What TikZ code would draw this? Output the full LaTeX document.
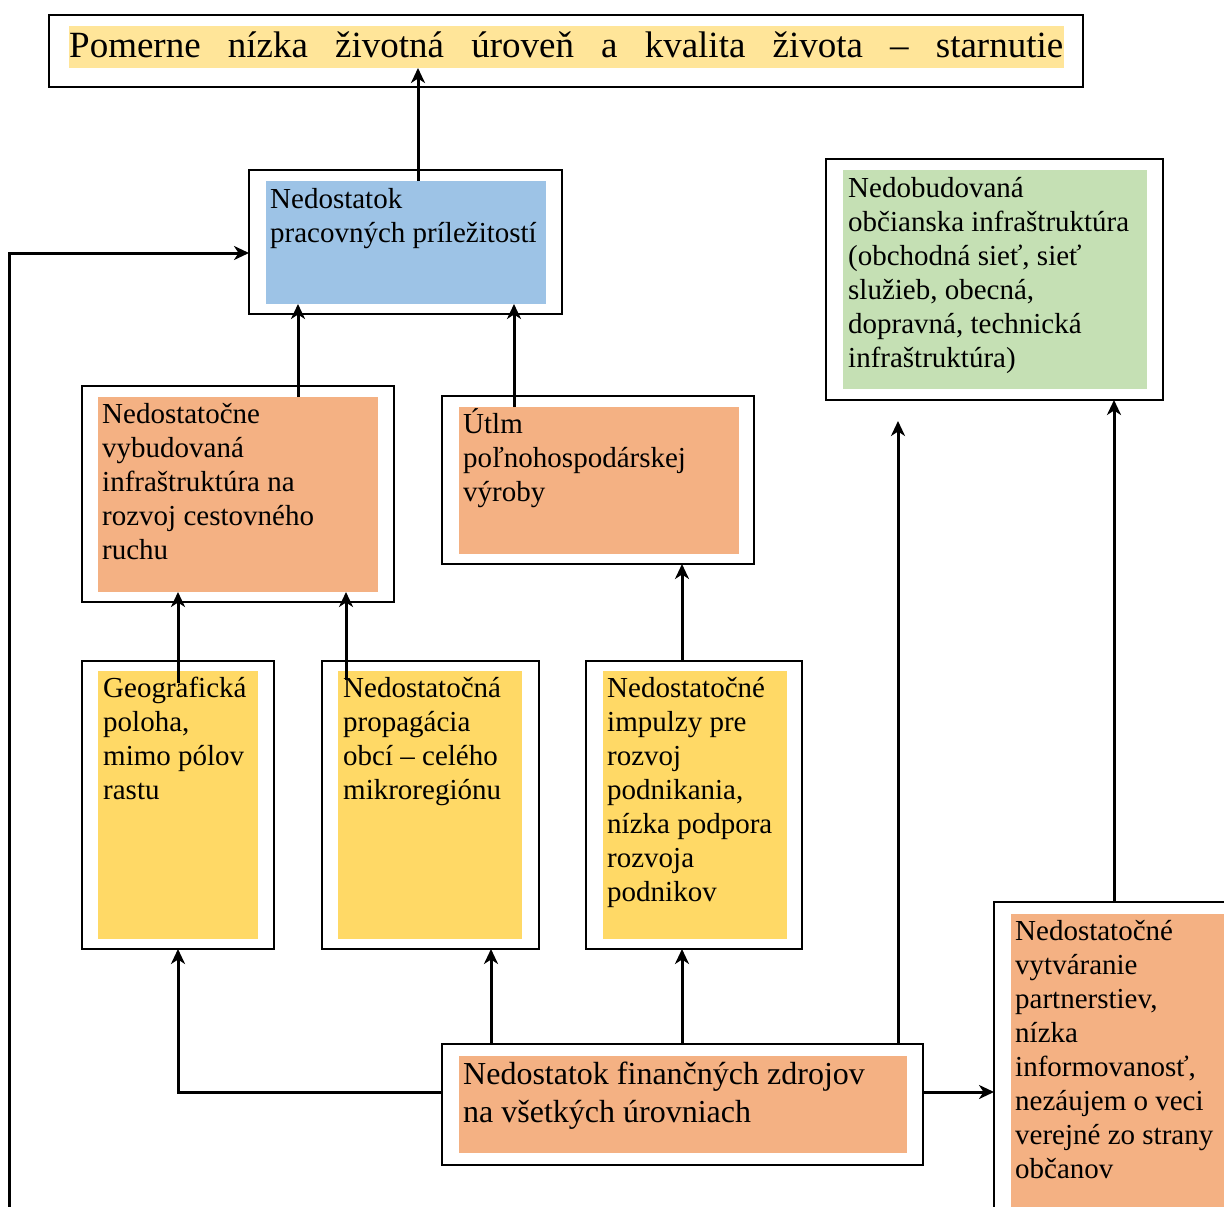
\documentclass[tikz,border=0pt]{standalone}
\usepackage{fontspec}
\setmainfont{Liberation Serif}
\usetikzlibrary{arrows.meta,calc}
\definecolor{cblue}{HTML}{9DC3E6}
\definecolor{corange}{HTML}{F4B183}
\definecolor{cgreen}{HTML}{C5E0B4}
\definecolor{cyellow}{HTML}{FFD966}
\definecolor{chigh}{HTML}{FFE599}
\newcommand{\mlines}[1]{\begin{tabular}[t]{@{}l@{}}#1\end{tabular}}
\begin{document}
\begin{tikzpicture}[x=1pt,y=-1pt,
  outer/.style={draw=black,line width=2.8pt,fill=white,inner sep=0pt,outer sep=0pt},
  fillbox/.style={inner sep=0pt,outer sep=0pt},
  txt/.style={anchor=base west,inner sep=0pt,font=\fontsize{29}{34}\selectfont},
  arr/.style={line width=3pt,-{Stealth[length=15pt,width=14pt,inset=4.5pt]}}]
\useasboundingbox (0,0) rectangle (1224,1207);
\clip (0,0) rectangle (1224,1207);
\fill[white] (0,0) rectangle (1224,1207);

% top box
\node[outer,minimum width=1034,minimum height=72] (o1) at (566,51) {};
\node[fillbox,fill=chigh,minimum width=995,minimum height=42] (f1) at (566.5,47) {};
\node[anchor=base west,inner sep=0pt,font=\fontsize{37}{42}\selectfont] (t1) at (69,58)
  {\hbox to 994pt{Pomerne\hfill nízka\hfill životná\hfill úroveň\hfill a\hfill kvalita\hfill života\hfill –\hfill starnutie}};

% Nedostatok pracovnych prilezitosti
\node[outer,minimum width=313,minimum height=144] (o2) at (405.5,242) {};
\node[fillbox,fill=cblue,minimum width=280,minimum height=123] (f2) at (406,242.5) {};
\node[txt] (t2) at (270,208) {\mlines{Nedostatok\\pracovných príležitostí}};

% Nedostatocne vybudovana
\node[outer,minimum width=312,minimum height=216] (o3) at (238,494) {};
\node[fillbox,fill=corange,minimum width=280,minimum height=195] (f3) at (238,494.5) {};
\node[txt] (t3) at (102,423) {\mlines{Nedostatočne\\vybudovaná\\infraštruktúra na\\rozvoj cestovného\\ruchu}};

% Utlm
\node[outer,minimum width=312,minimum height=168] (o4) at (598,480) {};
\node[fillbox,fill=corange,minimum width=280,minimum height=147] (f4) at (599,480.5) {};
\node[txt] (t4) at (463,433) {\mlines{Útlm\\poľnohospodárskej\\výroby}};

% Nedobudovana
\node[outer,minimum width=337,minimum height=241] (o5) at (994.5,279.5) {};
\node[fillbox,fill=cgreen,minimum width=304,minimum height=219] (f5) at (995,279.5) {};
\node[txt] (t5) at (848,197) {\mlines{Nedobudovaná\\občianska infraštruktúra\\(obchodná sieť, sieť\\služieb, obecná,\\dopravná, technická\\infraštruktúra)}};

% Geograficka
\node[outer,minimum width=192,minimum height=288] (o6) at (178,805) {};
\node[fillbox,fill=cyellow,minimum width=160,minimum height=268] (f6) at (178,805) {};
\node[txt] (t6) at (103,697) {\mlines{Geografická\\poloha,\\mimo pólov\\rastu}};

% Nedostatocna propagacia
\node[outer,minimum width=217,minimum height=288] (o7) at (430.5,805) {};
\node[fillbox,fill=cyellow,minimum width=184,minimum height=268] (f7) at (430,805) {};
\node[txt] (t7) at (343,697) {\mlines{Nedostatočná\\propagácia\\obcí – celého\\mikroregiónu}};

% Nedostatocne impulzy
\node[outer,minimum width=216,minimum height=288] (o8) at (694,805) {};
\node[fillbox,fill=cyellow,minimum width=184,minimum height=268] (f8) at (695,805) {};
\node[txt] (t8) at (607,697) {\mlines{Nedostatočné\\impulzy pre\\rozvoj\\podnikania,\\nízka podpora\\rozvoja\\podnikov}};

% Nedostatok financnych zdrojov
\node[outer,minimum width=481,minimum height=121] (o9) at (682.5,1104.5) {};
\node[fillbox,fill=corange,minimum width=448,minimum height=97] (f9) at (683,1104.5) {};
\node[txt,font=\fontsize{32}{38}\selectfont] (t9) at (463,1084) {\mlines{Nedostatok finančných zdrojov\\na všetkých úrovniach}};

% Nedostatocne vytvaranie partnerstiev
\node[outer,minimum width=256,minimum height=338] (o10) at (1122,1071) {};
\node[fillbox,fill=corange,minimum width=223,minimum height=316] (f10) at (1122.5,1072) {};
\node[txt] (t10) at (1015,940) {\mlines{Nedostatočné\\vytváranie\\partnerstiev,\\nízka\\informovanosť,\\nezáujem o veci\\verejné zo strany\\občanov}};

% connectors
\coordinate (lb) at (9,1215);
\coordinate (c5) at (898,421);
\draw[arr] (f2.north -| 418,0) -- (f1.south -| 418,0);
\draw[arr] (lb) |- (o2.west |- 0,253);
\draw[arr] (f3.north -| 298,0) -- (f2.south -| 298,0);
\draw[arr] (f4.north -| 514,0) -- (f2.south -| 514,0);
\draw[arr] ($(f6.north)+(0,12)$) -- (f3.south -| f6.north);
\draw[arr] ($(f7.north -| 346,0)+(0,9)$) -- (f3.south -| 346,0);
\draw[arr] (o8.north -| 682,0) -- (o4.south -| 682,0);
\draw[arr] (o9.west |- 0,1092) -| (o6.south);
\draw[arr] (o9.north -| 491,0) -- (o7.south -| 491,0);
\draw[arr] (o9.north -| 682,0) -- (o8.south -| 682,0);
\draw[arr] (o9.north -| 898,0) -- (c5);
\draw[arr] (o9.east |- 0,1092) -- (o10.west |- 0,1092);
\draw[arr] (o10.north -| 1114,0) -- (o5.south -| 1114,0);
\end{tikzpicture}
\end{document}
